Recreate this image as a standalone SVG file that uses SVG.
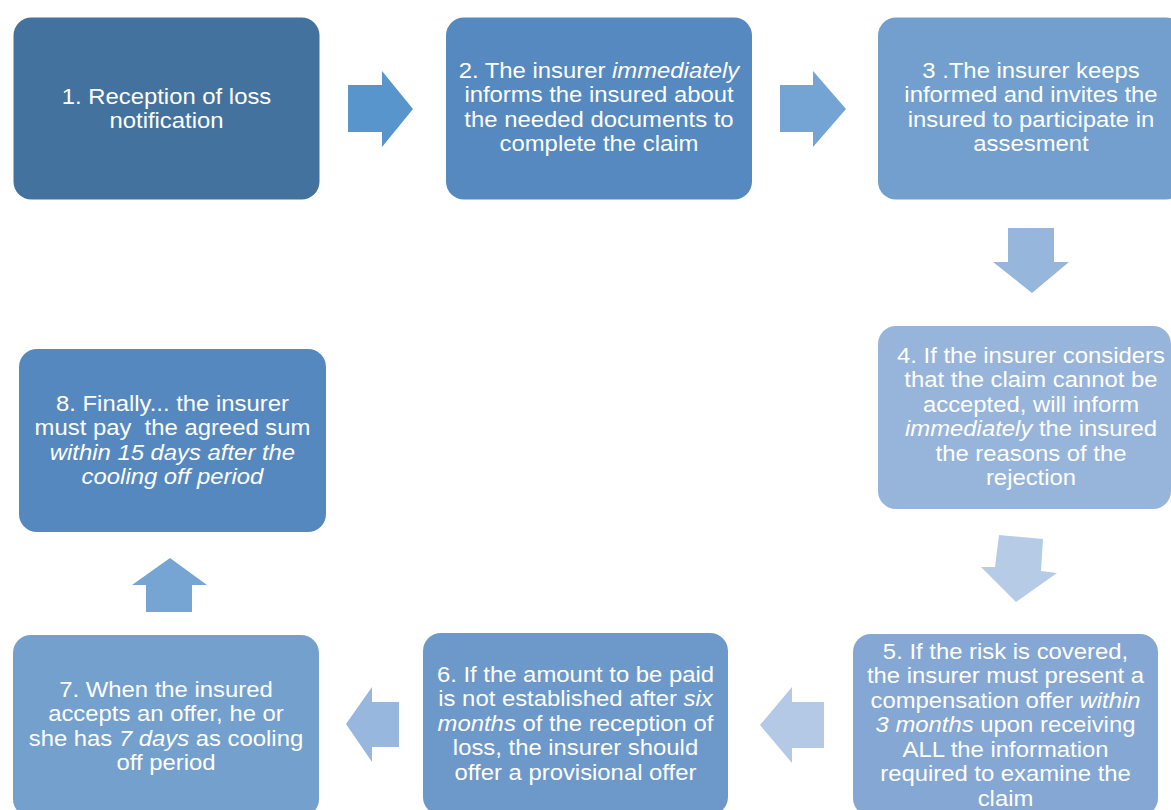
<svg xmlns="http://www.w3.org/2000/svg" width="1171" height="810" viewBox="0 0 1171 810">
  <style>
    .box { stroke: none; }
    .lbl { font-family: "Liberation Sans", Arial, sans-serif; font-size: 21.5px; fill: #ffffff; text-anchor: middle; }
    .it { font-style: italic; }
  </style>
  <rect x="0" y="0" width="1171" height="810" fill="#ffffff"/>

  <!-- step arrows -->
  <g id="connectors">
    <polygon id="a1-2" fill="#5795cc" points="348,85 382,85 382,71 413,109 382,147 382,132 348,132"/>
    <polygon id="a2-3" fill="#73a4d4" points="780,85 813,85 813,71 846,109 813,147 813,132 780,132"/>
    <polygon id="a3-4" fill="#96b6dc" points="1008,228 1054,228 1054,262 1069,262 1032,293 993,262 1008,262"/>
    <polygon id="a4-5" fill="#b5cbe6" points="999,535 1043,539 1041,571 1057,573 1016,602 981,567 995,567"/>
    <polygon id="a5-6" fill="#b4c9e5" points="824,702 792,702 792,687 760,725 792,763 792,748 824,748"/>
    <polygon id="a6-7" fill="#97b7de" points="399,702 372,702 372,687 346,724 372,762 372,747 399,747"/>
    <polygon id="a7-8" fill="#76a5d4" points="146,612 146,585 132,585 170,558 207,585 192,585 192,612"/>
  </g>

  <g id="step1">
    <rect class="box" x="13.5" y="17.5" width="306" height="182" rx="18" fill="#44729e"/>
    <text class="lbl" transform="matrix(1.11,0,0,1,-18.3,0)"><tspan x="166.5" y="104">1. Reception of loss</tspan><tspan x="166.5" y="128.5">notification</tspan></text>
  </g>

  <g id="step2">
    <rect class="box" x="446" y="17.5" width="306" height="182" rx="18" fill="#5589bf"/>
    <text class="lbl" transform="matrix(1.11,0,0,1,-65.9,0)"><tspan x="599" y="78">2. The insurer <tspan class="it">immediately</tspan></tspan><tspan x="599" y="102.5">informs the insured about</tspan><tspan x="599" y="127">the needed documents to</tspan><tspan x="599" y="151.5">complete the claim</tspan></text>
  </g>

  <g id="step3">
    <rect class="box" x="878" y="17.5" width="306" height="182" rx="18" fill="#729fcd"/>
    <text class="lbl" transform="matrix(1.11,0,0,1,-113.4,0)"><tspan x="1031" y="78">3 .The insurer keeps</tspan><tspan x="1031" y="102.5">informed and invites the</tspan><tspan x="1031" y="127">insured to participate in</tspan><tspan x="1031" y="151.5">assesment</tspan></text>
  </g>

  <g id="step4">
    <rect class="box" x="878" y="326" width="293" height="183" rx="18" fill="#97b5da"/>
    <text class="lbl" transform="matrix(1.11,0,0,1,-113.4,0)"><tspan x="1031" y="363">4. If the insurer considers</tspan><tspan x="1031" y="387.5">that the claim cannot be</tspan><tspan x="1031" y="412">accepted, will inform</tspan><tspan x="1031" y="436.5"><tspan class="it">immediately</tspan> the insured</tspan><tspan x="1031" y="461">the reasons of the</tspan><tspan x="1031" y="485.5">rejection</tspan></text>
  </g>

  <g id="step5">
    <rect class="box" x="853" y="634" width="305" height="182" rx="18" fill="#84a7d4"/>
    <text class="lbl" transform="matrix(1.11,0,0,1,-110.6,0)"><tspan x="1005.5" y="659">5. If the risk is covered,</tspan><tspan x="1005.5" y="683.5">the insurer must present a</tspan><tspan x="1005.5" y="708">compensation offer <tspan class="it">within</tspan></tspan><tspan x="1005.5" y="732.5"><tspan class="it">3 months</tspan> upon receiving</tspan><tspan x="1005.5" y="757">ALL the information</tspan><tspan x="1005.5" y="781.5">required to examine the</tspan><tspan x="1005.5" y="806">claim</tspan></text>
  </g>

  <g id="step6">
    <rect class="box" x="423" y="633" width="305" height="182" rx="18" fill="#6d98ca"/>
    <text class="lbl" transform="matrix(1.11,0,0,1,-63.3,0)"><tspan x="575.5" y="682">6. If the amount to be paid</tspan><tspan x="575.5" y="706.5">is not established after <tspan class="it">six</tspan></tspan><tspan x="575.5" y="731"><tspan class="it">months</tspan> of the reception of</tspan><tspan x="575.5" y="755.5">loss, the insurer should</tspan><tspan x="575.5" y="780">offer a provisional offer</tspan></text>
  </g>

  <g id="step7">
    <rect class="box" x="13" y="635" width="306" height="182" rx="18" fill="#74a0ce"/>
    <text class="lbl" transform="matrix(1.11,0,0,1,-18.3,0)"><tspan x="166" y="697">7. When the insured</tspan><tspan x="166" y="721.5">accepts an offer, he or</tspan><tspan x="166" y="746">she has <tspan class="it">7 days</tspan> as cooling</tspan><tspan x="166" y="770.5">off period</tspan></text>
  </g>

  <g id="step8">
    <rect class="box" x="19" y="349" width="307" height="183" rx="18" fill="#5588bf"/>
    <text class="lbl" transform="matrix(1.11,0,0,1,-19,0)"><tspan x="172.5" y="411">8. Finally... the insurer</tspan><tspan x="172.5" y="435.5">must pay&#160; the agreed sum</tspan><tspan x="172.5" y="460" class="it">within 15 days after the</tspan><tspan x="172.5" y="484.5" class="it">cooling off period</tspan></text>
  </g>
</svg>
